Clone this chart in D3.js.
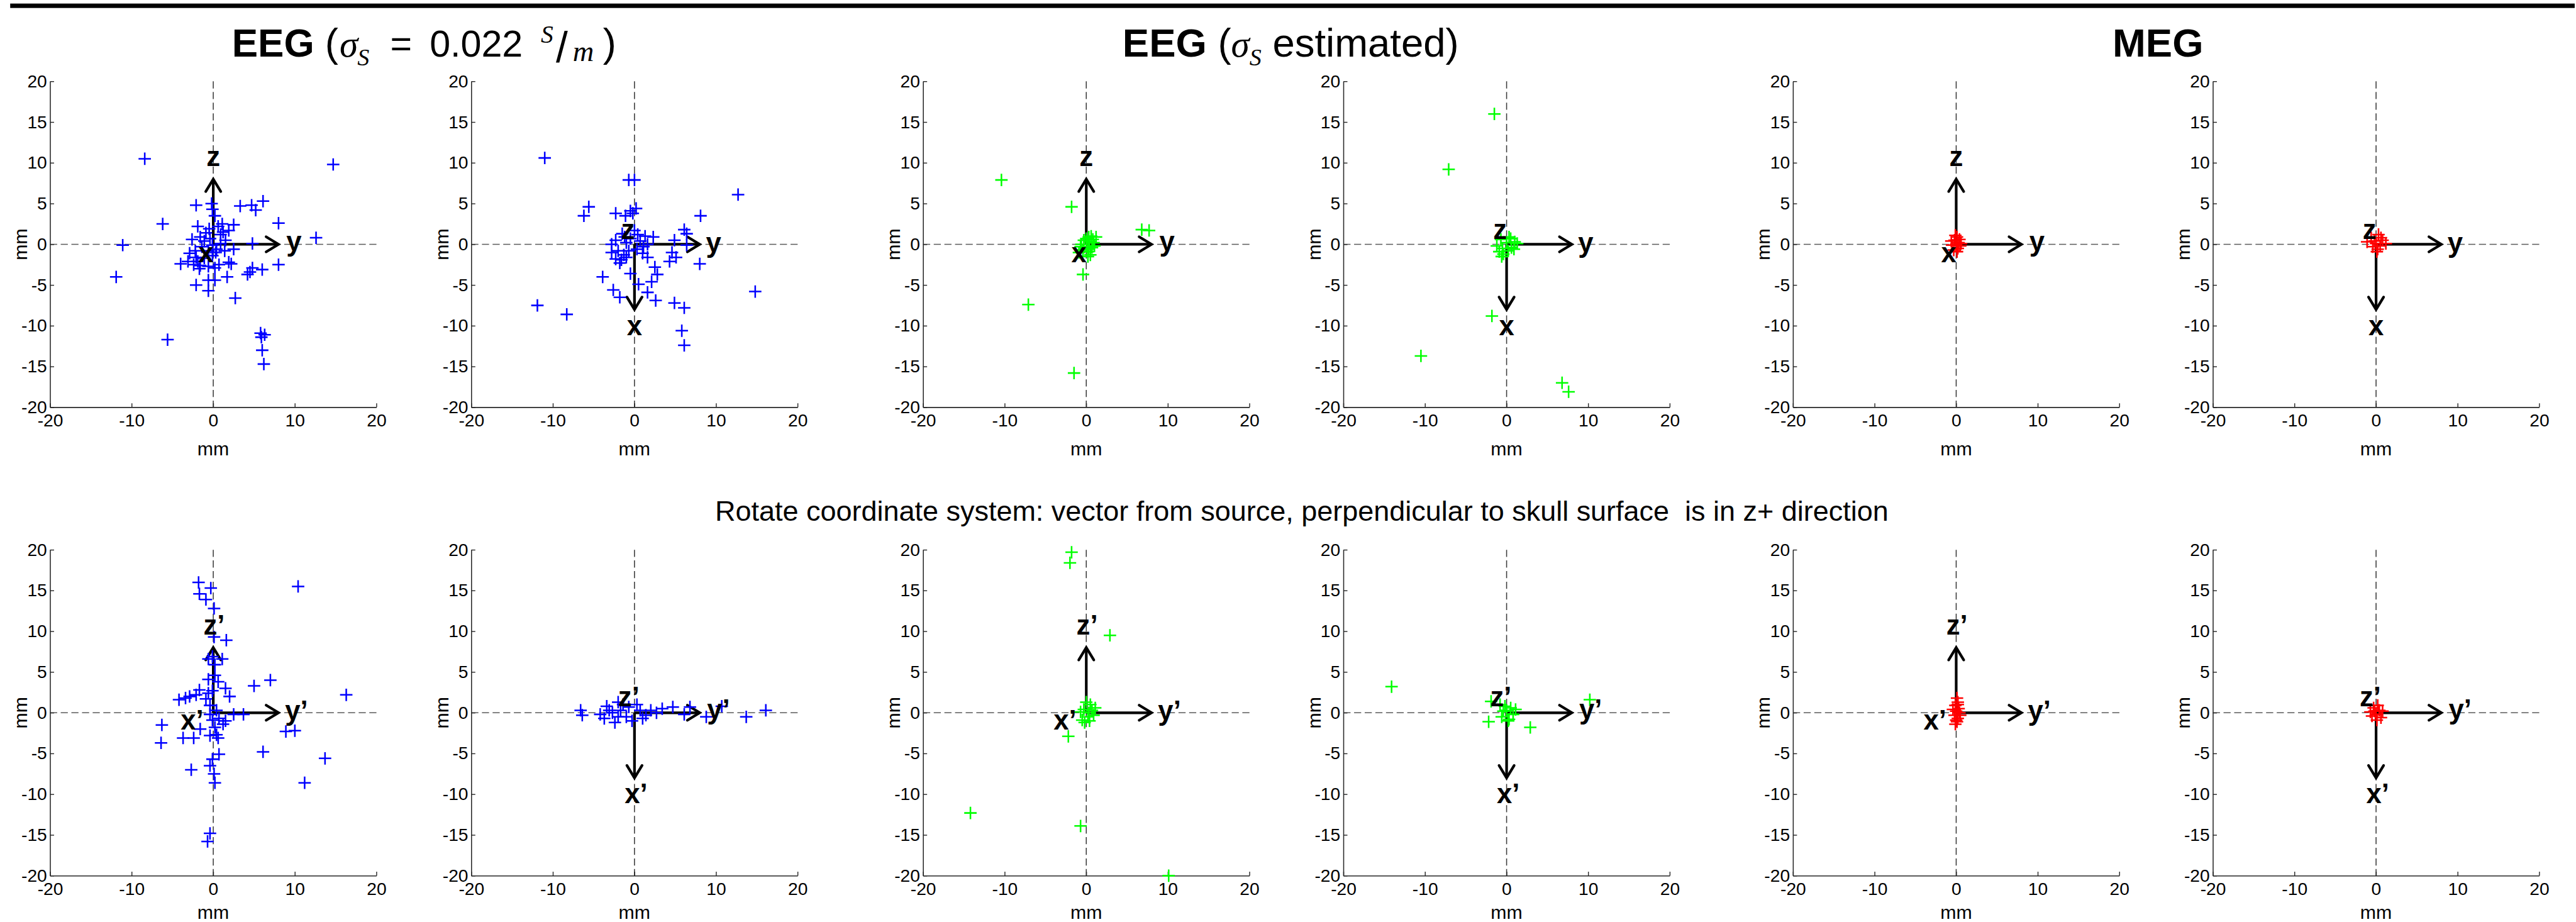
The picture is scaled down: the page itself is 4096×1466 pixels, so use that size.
<!DOCTYPE html>
<html>
<head>
<meta charset="utf-8">
<script src="https://cdn.jsdelivr.net/npm/d3@7"></script>
<style>
body { margin: 0; background: #fff; }
svg { display: block; }
text { white-space: pre; }
</style>
</head>
<body>
<svg id="chart" width="4096" height="1466"></svg>
<script>

/* */
/* Data: [y, z] in mm */
/* */

// EEG, sigma fixed - original frame / rotated frame
const eegFixedTop = [[-8.4,10.5],[14.7,9.8],[-6.2,2.5],[-11.1,-0.1],[-11.9,-4.0],[-5.6,-11.7],[-2.1,4.8],[-0.2,5.0],[-0.1,4.3],[0.2,3.5],[3.3,4.7],[4.7,4.8],[5.2,4.2],[6.1,5.3],[8.0,2.6],[12.6,0.8],[-1.9,2.2],[1.1,2.5],[2.5,2.4],[1.9,1.7],[0.9,1.2],[-0.9,1.4],[-1.6,0.9],[-2.6,0.6],[-1.1,0.4],[-0.4,0.7],[4.8,0.1],[2.5,-0.6],[1.4,-0.8],[0.4,-0.6],[-0.6,-0.8],[-2.2,-0.8],[-2.9,-1.1],[-2.1,-1.6],[-1.1,-1.7],[-0.1,-1.4],[-3.1,-2.1],[-4.0,-2.4],[-2.4,-2.5],[-1.6,-2.6],[-0.6,-2.7],[0.7,-2.5],[1.9,-2.2],[2.2,-2.4],[8.0,-2.5],[4.8,-2.9],[6.0,-3.1],[4.5,-3.4],[4.2,-3.7],[-1.7,-3.0],[0.2,-2.9],[1.7,-4.0],[-2.1,-5.0],[-0.6,-4.4],[0.2,-4.4],[-0.6,-5.7],[2.7,-6.6],[5.8,-10.9],[6.3,-11.1],[6.0,-13.0],[6.2,-14.7],[5.9,-11.4],[0.6,2.2],[-0.1,-0.1],[0.9,0.1],[-1.4,-0.3],[-1.9,-2.1],[1.2,1.5],[-0.5,1.9],[1.5,0.5],[0.3,-1.0]];
const eegFixedTopB = [[-11.0,10.6],[-0.7,7.9],[0.0,7.9],[12.7,6.1],[-5.6,4.6],[-6.2,3.5],[-2.3,3.8],[-1.1,3.5],[-0.5,4.1],[0.2,4.4],[-0.2,3.8],[8.1,3.5],[6.1,1.8],[6.4,1.3],[4.9,0.5],[6.4,-0.1],[-1.5,1.3],[0.0,1.7],[1.3,1.0],[2.3,0.9],[-2.3,0.5],[-2.8,0.0],[-1.0,0.2],[-0.5,0.7],[0.7,0.4],[1.6,0.0],[-2.8,-1.0],[-2.0,-0.8],[-1.3,-1.3],[-0.7,-0.8],[0.3,-0.6],[1.0,-1.1],[1.6,-1.6],[-2.3,-1.8],[-1.6,-1.9],[-1.0,-1.6],[-1.8,-2.3],[4.6,-1.0],[5.1,-1.6],[4.3,-2.1],[8.0,-2.4],[-3.9,-4.0],[-0.5,-3.6],[2.5,-2.8],[2.8,-3.7],[-2.6,-5.6],[-1.8,-6.5],[0.5,-4.9],[2.1,-4.6],[1.6,-5.9],[2.6,-6.9],[4.9,-7.2],[6.1,-7.8],[-11.9,-7.5],[-8.3,-8.6],[14.8,-5.8],[5.8,-10.6],[6.1,-12.4],[0.4,1.2],[-1.2,0.9],[1.1,-0.3]];
const eegFixedBot = [[-1.8,16.0],[-0.3,15.3],[-1.7,14.6],[-0.9,13.9],[0.1,12.8],[10.4,15.5],[0.1,9.3],[1.6,8.9],[-0.1,6.9],[-0.6,6.6],[1.1,6.6],[0.2,5.9],[0.2,4.6],[-0.6,4.1],[0.6,3.8],[1.5,3.0],[-0.1,2.7],[-0.6,2.4],[-1.7,2.8],[-2.1,2.2],[-2.9,2.0],[-3.4,1.8],[-4.2,1.6],[-0.9,1.7],[2.0,2.0],[5.0,3.3],[7.0,4.0],[16.3,2.2],[-0.4,0.9],[0.4,0.3],[-0.4,-0.2],[0.7,-0.7],[1.5,-1.0],[1.2,-1.4],[2.5,-0.2],[3.7,-0.2],[-0.1,-0.9],[0.2,-1.8],[-1.6,-2.0],[-6.3,-1.5],[-6.4,-3.7],[-3.7,-3.1],[-2.4,-3.1],[-0.4,-2.8],[0.4,-2.7],[0.6,-3.1],[8.9,-2.3],[10.0,-2.2],[6.1,-4.8],[0.7,-5.1],[-0.1,-5.7],[-0.4,-6.5],[-2.7,-7.0],[0.1,-7.5],[0.2,-8.6],[11.2,-8.6],[13.7,-5.6],[-0.4,-14.8],[-0.7,-15.8]];
const eegFixedBotB = [[-6.6,0.3],[-6.4,-0.3],[-4.2,-0.2],[-3.7,-0.7],[-3.4,0.8],[-2.4,-1.2],[-2.0,1.3],[-1.7,0.3],[-1.0,-0.5],[-0.7,0.7],[0.7,0.3],[1.4,-0.3],[2.0,0.3],[3.4,0.5],[4.7,0.7],[6.8,0.7],[8.8,-0.5],[10.7,0.8],[13.7,-0.5],[16.1,0.3],[-2.7,0.0],[-0.3,-1.0],[1.0,-0.7],[-1.4,1.0],[2.7,0.0],[6.1,-0.2],[0.3,1.0],[-3.1,0.3],[-2.0,-0.5]];

// EEG, sigma estimated
const eegEstTop = [[-10.4,7.9],[-1.8,4.6],[6.8,1.8],[7.7,1.7],[-0.4,-3.7],[-7.1,-7.4],[-1.5,-15.8],[0.3,0.9],[0.6,1.0],[0.9,0.2],[-0.6,0.0],[-0.4,-0.7],[0.2,-0.9],[0.7,-0.4],[1.0,-0.2],[-0.3,0.5],[0.4,0.3],[0.1,-0.3],[0.5,-1.3],[-0.7,-0.3],[0.8,0.6],[0.0,0.7],[0.3,-0.6],[1.2,0.9],[-0.9,-1.0],[0.2,-1.5]];
const eegEstTopB = [[-1.5,16.0],[-7.1,9.2],[-1.8,-8.8],[-10.5,-13.7],[6.8,-17.0],[7.6,-18.1],[-0.7,0.6],[0.5,0.7],[1.0,0.3],[1.3,0.1],[-1.2,-0.2],[-0.5,-0.5],[0.2,-0.8],[0.6,-0.4],[-0.4,-1.2],[-0.6,-1.5],[0.9,-0.6],[0.0,0.2],[0.3,0.9],[-0.9,-0.9]];
const eegEstBot = [[-1.8,19.7],[-2.0,18.4],[2.9,9.5],[-2.2,-2.9],[-14.2,-12.3],[-0.7,-13.9],[10.1,-20.0],[0.5,1.0],[0.2,-0.5],[-0.3,0.4],[0.7,0.3],[-0.5,-0.9],[0.9,-0.3],[0.0,1.3],[-0.2,-1.2],[0.4,-1.0],[-0.7,0.1],[1.1,0.6],[0.3,0.0]];
const eegEstBotB = [[-14.1,3.2],[10.2,1.6],[-2.2,-1.1],[2.9,-1.8],[-1.9,1.4],[0.5,0.6],[-0.4,0.2],[0.8,-0.2],[0.3,-0.8],[-0.6,-0.5],[1.1,0.4],[-0.2,0.8],[0.2,-1.0],[0.0,0.3],[-0.8,1.0]];

// MEG
const megTop = [[0.1,0.9],[-0.2,0.5],[0.3,0.2],[-0.5,-0.1],[0.2,-0.5],[0.5,-0.2],[-0.3,-0.7],[0.0,0.0],[0.4,0.6],[-0.6,0.4],[0.1,-0.9],[-0.1,1.1],[0.6,0.1]];
const megTopB = [[-1.1,0.3],[-0.6,0.8],[0.3,1.2],[0.8,0.5],[1.2,0.1],[-0.4,-0.3],[0.2,-0.6],[0.1,-0.9],[0.5,-0.2],[-0.2,0.4],[0.6,0.8],[0.0,0.1]];
const megBot = [[0.1,1.8],[0.2,1.3],[-0.1,0.9],[0.3,0.5],[0.0,0.2],[-0.2,-0.3],[0.2,-0.7],[0.1,-1.1],[-0.1,-1.4],[0.4,0.0],[-0.4,0.4],[0.5,-0.3],[0.0,-0.9],[0.2,1.0]];
const megBotB = [[-0.3,0.6],[0.4,0.3],[0.0,-0.2],[-0.5,-0.4],[0.6,-0.6],[0.2,0.9],[-0.7,0.1],[0.8,0.2],[0.1,-0.9],[-0.2,0.2]];

const xTicks = [-20, -10, 0, 10, 20];
const yTicks = [-20, -15, -10, -5, 0, 5, 10, 15, 20];

// coordinate frame drawn in each panel (mm): arrow tips and axis names
const frameUp = { arrows: [[0, 8], [8, 0]], names: ["z", "x", "y"], at: [[0, 10.5], [-0.9, -1.3], [9.9, 0.1]] };
const frameDown = { arrows: [[0, -8], [8, 0]], names: ["z", "x", "y"], at: [[-0.8, 1.5], [0, -10.3], [9.7, -0.1]] };
const frameUpRot = { arrows: [[0, 8], [8, 0]], names: ["z\u2019", "x\u2019", "y\u2019"], at: [[0.1, 10.5], [-2.6, -1.2], [10.2, 0]] };
const frameDownRot = { arrows: [[0, -8], [8, 0]], names: ["z\u2019", "x\u2019", "y\u2019"], at: [[-0.7, 1.7], [0.2, -10.2], [10.3, 0.1]] };

/* */
/* Layout (reference pixels, scaled down at the end) */
/* */

const SCALE = 0.705;
const colLeft = [113, 1063, 2082, 3030, 4044, 4991];
const rowTop = [183.5, 1240];
const xLabelGap = [109, 98];
const plotW = 736, plotH = 735;
const SANS = "'Liberation Sans', Arial, Helvetica, sans-serif";
const SERIF = "'Liberation Serif', 'Times New Roman', serif";

const BLUE = "#0000ff", GREEN = "#00ff00", RED = "#ff0000";

const panels = [
  { row: 0, col: 0, pts: eegFixedTop, color: BLUE, frame: frameUp },
  { row: 0, col: 1, pts: eegFixedTopB, color: BLUE, frame: frameDown },
  { row: 0, col: 2, pts: eegEstTop, color: GREEN, frame: frameUp },
  { row: 0, col: 3, pts: eegEstTopB, color: GREEN, frame: frameDown },
  { row: 0, col: 4, pts: megTop, color: RED, frame: frameUp },
  { row: 0, col: 5, pts: megTopB, color: RED, frame: frameDown },
  { row: 1, col: 0, pts: eegFixedBot, color: BLUE, frame: frameUpRot },
  { row: 1, col: 1, pts: eegFixedBotB, color: BLUE, frame: frameDownRot },
  { row: 1, col: 2, pts: eegEstBot, color: GREEN, frame: frameUpRot },
  { row: 1, col: 3, pts: eegEstBotB, color: GREEN, frame: frameDownRot },
  { row: 1, col: 4, pts: megBot, color: RED, frame: frameUpRot },
  { row: 1, col: 5, pts: megBotB, color: RED, frame: frameDownRot }
];

const svg = d3.select("#chart");
svg.append("rect").attr("width", 4096).attr("height", 1466).attr("fill", "#fff");
const root = svg.append("g").attr("transform", `scale(${SCALE})`);

// black rule across the top
root.append("rect")
  .attr("x", 23).attr("y", 8)
  .attr("width", 5807 - 23).attr("height", 10)
  .attr("fill", "#000");

/* */
/* Titles */
/* */

// pieces flow one after another; baseline shifts are relative (dy) so the
// centred titles stay a single text chunk
function addTitle(x0, anchor, parts) {
  const t = root.append("text")
    .attr("x", x0).attr("y", 128)
    .attr("text-anchor", anchor)
    .attr("font-family", SANS)
    .attr("fill", "#000");
  let prev = 0;
  parts.forEach(p => {
    const shift = p.shift || 0;
    const s = t.append("tspan")
      .attr("font-size", p.size)
      .attr("font-weight", p.bold ? "bold" : "normal")
      .attr("font-style", p.italic ? "italic" : "normal")
      .attr("font-family", p.serif ? SERIF : SANS)
      .attr("dy", shift - prev)
      .text(p.t);
    if (p.x !== undefined) s.attr("x", p.x);
    prev = shift;
  });
}

addTitle(523, "start", [
  { t: "EEG", size: 88, bold: true },
  { t: "(", size: 90, x: 733 },
  { t: "\u03c3", size: 84, italic: true, serif: true, x: 766 },
  { t: "S", size: 54, italic: true, serif: true, x: 806, shift: 19 },
  { t: "=", size: 84, x: 880 },
  { t: "0.022", size: 84, x: 969 },
  { t: "S", size: 56, italic: true, serif: true, x: 1220, shift: -31 },
  { t: "/", size: 96, x: 1254, shift: 12 },
  { t: "m", size: 66, italic: true, serif: true, x: 1292, shift: 9 },
  { t: ")", size: 90, x: 1360 }
]);

addTitle(2911, "middle", [
  { t: "EEG", size: 90, bold: true },
  { t: " (", size: 90 },
  { t: "\u03c3", size: 84, italic: true, serif: true },
  { t: "S", size: 54, italic: true, serif: true, shift: 19 },
  { t: " estimated", size: 90 },
  { t: ")", size: 90 }
]);

addTitle(4867, "middle", [{ t: "MEG", size: 90, bold: true }]);

root.append("text")
  .attr("x", 2936).attr("y", 1175)
  .attr("text-anchor", "middle")
  .attr("font-family", SANS)
  .attr("font-size", 63.8)
  .attr("fill", "#000")
  .text("Rotate coordinate system: vector from source, perpendicular to skull surface  is in z+ direction");

/* */
/* Panels */
/* */

function arrowHead(tip, dir) {
  const back = 28, half = 17;
  const px = -dir[1], py = dir[0];
  const a = [tip[0] - back * dir[0] + half * px, tip[1] - back * dir[1] + half * py];
  const b = [tip[0] - back * dir[0] - half * px, tip[1] - back * dir[1] - half * py];
  return `M${a[0]},${a[1]}L${tip[0]},${tip[1]}L${b[0]},${b[1]}`;
}

panels.forEach(p => {
  const g = root.append("g")
    .attr("transform", `translate(${colLeft[p.col]},${rowTop[p.row]})`);

  const x = d3.scaleLinear().domain([-20, 20]).range([0, plotW]);
  const y = d3.scaleLinear().domain([-20, 20]).range([plotH, 0]);

  // dashed zero lines
  g.append("line")
    .attr("x1", x(-20)).attr("x2", x(20))
    .attr("y1", y(0)).attr("y2", y(0))
    .attr("stroke", "#5a5a5a").attr("stroke-width", 2.2)
    .attr("stroke-dasharray", "16,8");
  g.append("line")
    .attr("x1", x(0)).attr("x2", x(0))
    .attr("y1", y(20)).attr("y2", y(-20))
    .attr("stroke", "#3a3a3a").attr("stroke-width", 2.2)
    .attr("stroke-dasharray", "16,8");

  // axes, ticks pointing inward like MATLAB
  const gx = g.append("g")
    .attr("transform", `translate(0,${plotH})`)
    .call(d3.axisBottom(x).tickValues(xTicks).tickSizeInner(-9).tickSizeOuter(0)
      .tickPadding(15).tickFormat(d => String(d)));
  const gy = g.append("g")
    .call(d3.axisLeft(y).tickValues(yTicks).tickSizeInner(-9).tickSizeOuter(0)
      .tickPadding(7).tickFormat(d => String(d)));

  [gx, gy].forEach(a => {
    a.attr("font-size", 40).attr("font-family", SANS);
    a.select(".domain").attr("stroke", "#262626").attr("stroke-width", 2.2);
    a.selectAll(".tick line").attr("stroke", "#262626").attr("stroke-width", 2);
    a.selectAll(".tick text").attr("fill", "#000");
  });

  // axis labels
  g.append("text")
    .attr("x", plotW / 2).attr("y", plotH + xLabelGap[p.row])
    .attr("text-anchor", "middle")
    .attr("font-family", SANS).attr("font-size", 43)
    .text("mm");
  g.append("text")
    .attr("transform", `translate(-63,${plotH / 2}) rotate(-90)`)
    .attr("dy", "0.26em")
    .attr("text-anchor", "middle")
    .attr("font-family", SANS).attr("font-size", 43)
    .text("mm");

  // coordinate frame arrows
  const o = [x(0), y(0)];
  p.frame.arrows.forEach(a => {
    const tip = [x(a[0]), y(a[1])];
    const len = Math.hypot(tip[0] - o[0], tip[1] - o[1]);
    const dir = [(tip[0] - o[0]) / len, (tip[1] - o[1]) / len];
    g.append("line")
      .attr("x1", o[0]).attr("y1", o[1])
      .attr("x2", tip[0] - dir[0] * 3).attr("y2", tip[1] - dir[1] * 3)
      .attr("stroke", "#000").attr("stroke-width", 6);
    g.append("path")
      .attr("d", arrowHead(tip, dir))
      .attr("fill", "none").attr("stroke", "#000")
      .attr("stroke-width", 6)
      .attr("stroke-linecap", "round").attr("stroke-linejoin", "miter");
  });

  // dipole positions as '+' markers
  g.append("g").selectAll("path")
    .data(p.pts)
    .join("path")
    .attr("transform", d => `translate(${x(d[0])},${y(d[1])})`)
    .attr("d", "M-14,0H14M0,-14V14")
    .attr("stroke", p.color)
    .attr("stroke-width", 3.6)
    .attr("fill", "none");

  // frame axis names
  g.append("g").selectAll("text")
    .data(p.frame.names)
    .join("text")
    .attr("x", (d, i) => x(p.frame.at[i][0]))
    .attr("y", (d, i) => y(p.frame.at[i][1]))
    .attr("dy", "0.26em")
    .attr("text-anchor", "middle")
    .attr("font-family", SANS)
    .attr("font-weight", "bold")
    .attr("font-size", 62)
    .attr("fill", "#000")
    .text(d => d);
});

</script>
</body>
</html>
